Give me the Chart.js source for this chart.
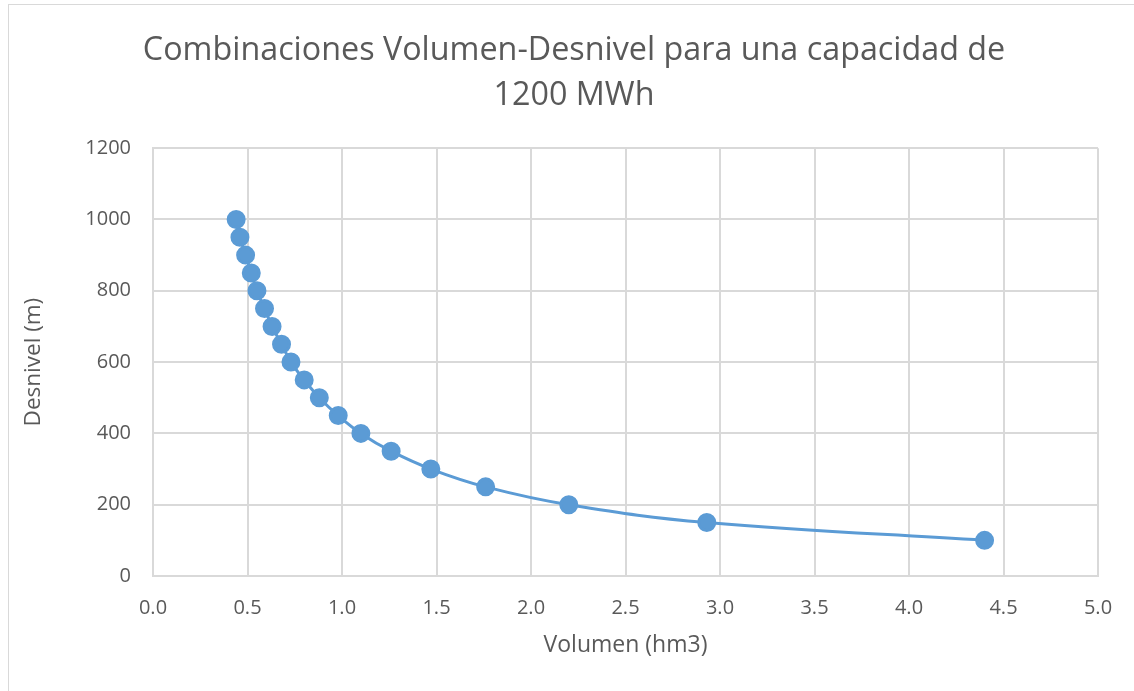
<!DOCTYPE html>
<html>
<head>
<meta charset="utf-8">
<script src="https://cdn.jsdelivr.net/npm/chart.js@4"></script>
<style>
  html, body { margin: 0; padding: 0; background: #fff; }
  #wrap { position: relative; width: 1134px; height: 691px; }
  #frame { position: absolute; left: 8px; top: 4px; width: 1140px; height: 700px; border: 1px solid #d9d9d9; box-sizing: border-box; }
  canvas { position: absolute; left: 0; top: 0; }
</style>
</head>
<body>
<div id="wrap">
  <div id="frame"></div>
  <canvas id="chart" width="1134" height="691"></canvas>
</div>
<script>
// Desnivel (m) vs Volumen (hm3)
const desnivel = [1000, 950, 900, 850, 800, 750, 700, 650, 600, 550, 500, 450, 400, 350, 300, 250, 200, 150, 100];
const volumen = [0.44, 0.46, 0.49, 0.52, 0.55, 0.59, 0.63, 0.68, 0.73, 0.80, 0.88, 0.98, 1.10, 1.26, 1.47, 1.76, 2.20, 2.93, 4.40];

const titleLines = ["Combinaciones Volumen-Desnivel para una capacidad de", "1200 MWh"];
const xTitle = "Volumen (hm3)";
const yTitle = "Desnivel (m)";

const blue = "#5b9bd5";
const textColor = "#595959";
const gridColor = "#d9d9d9";
const fontFamily = "'Open Sans', sans-serif";

const points = volumen.map((v, i) => ({ x: v, y: desnivel[i] }));

const ctx = document.getElementById("chart").getContext("2d");
new Chart(ctx, {
  type: "scatter",
  data: {
    datasets: [{
      data: points,
      showLine: true,
      borderColor: blue,
      backgroundColor: blue,
      borderWidth: 3,
      pointRadius: 8,
      pointHoverRadius: 8,
      tension: 0.4
    }]
  },
  options: {
    responsive: false,
    animation: false,
    layout: { padding: { left: 18, right: 4, top: 19, bottom: 28 } },
    plugins: {
      legend: { display: false },
      tooltip: { enabled: false },
      title: {
        display: true,
        text: titleLines,
        color: textColor,
        font: { family: fontFamily, size: 32.3, weight: "normal", lineHeight: 1.38 },
        padding: { top: 10, bottom: 30 }
      }
    },
    scales: {
      x: {
        type: "linear",
        min: 0, max: 5,
        ticks: {
          stepSize: 0.5,
          color: textColor,
          padding: 20,
          font: { family: fontFamily, size: 20 },
          callback: v => v.toFixed(1)
        },
        grid: { color: gridColor, lineWidth: 2, drawTicks: false },
        border: { color: gridColor, width: 2 },
        title: {
          display: true, text: xTitle, color: textColor,
          font: { family: fontFamily, size: 23 },
          padding: { top: 4, bottom: 4 }
        },
        afterFit: s => { s.height = 87; }
      },
      y: {
        min: 0, max: 1200,
        ticks: {
          stepSize: 200,
          color: textColor,
          padding: 22,
          font: { family: fontFamily, size: 20 },
          callback: v => String(v)
        },
        grid: { color: gridColor, lineWidth: 2, drawTicks: false },
        border: { color: gridColor, width: 2 },
        title: {
          display: true, text: yTitle, color: textColor,
          font: { family: fontFamily, size: 22.5 },
          padding: { top: 2, bottom: 4 }
        },
        afterFit: s => { s.width = 135; }
      },
      // empty right-hand spacer so the plot ends where the reference does
      yRight: {
        position: "right",
        min: 0, max: 1200,
        ticks: { display: false },
        grid: { drawOnChartArea: false, drawTicks: false },
        border: { display: false },
        afterFit: s => { s.width = 32; }
      }
    }
  }
});
</script>
</body>
</html>
